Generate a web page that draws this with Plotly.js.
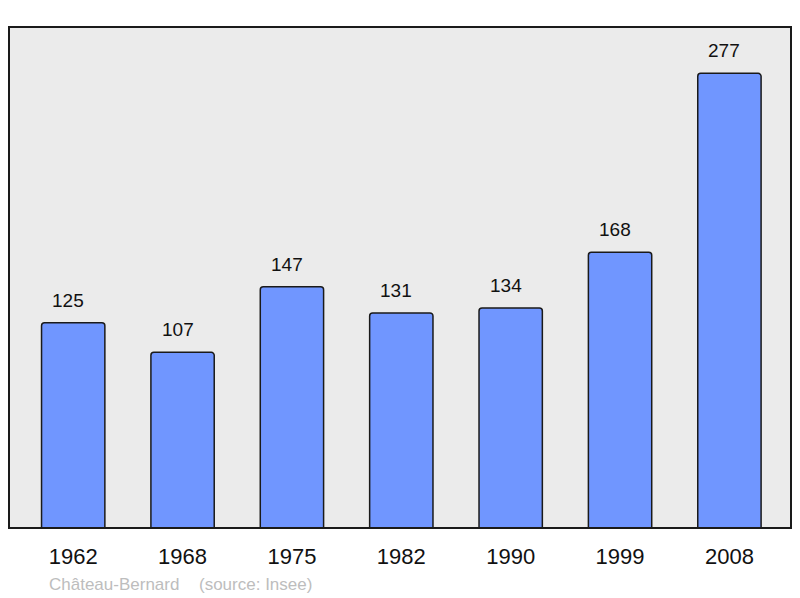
<!DOCTYPE html>
<html>
<head>
<meta charset="utf-8">
<script src="https://cdn.plot.ly/plotly-3.0.1.min.js"></script>
<style>html,body{margin:0;padding:0;background:#fff;}#chart{width:800px;height:598px;}</style>
</head>
<body>
<div id="chart"></div>
<script>
var years = ["1962", "1968", "1975", "1982", "1990", "1999", "2008"];
var population = [125, 107, 147, 131, 134, 168, 277];
var commune = "Château-Bernard";
var source = "(source: Insee)";

var FONT = "Liberation Sans, Arial, sans-serif";
var plotW = 800 - 9 - 9, plotH = 598 - 27 - 70;

var trace = {
  type: "bar",
  x: years.map(function (y, i) { return i; }),
  y: population,
  width: 0.579,
  marker: {
    color: "#7096ff",
    line: { color: "#1a1a1a", width: 1.5 },
    cornerradius: 3
  },
  hoverinfo: "none"
};

var annotations = years.map(function (yr, i) {
  return {
    x: i, y: population[i], xref: "x", yref: "y",
    text: String(population[i]), showarrow: false,
    xanchor: "center", yanchor: "bottom", yshift: 10, xshift: -5,
    font: { family: FONT, size: 19, color: "#111" }
  };
});
annotations.push({
  x: (47 - 9) / plotW, y: -(596 - 528) / plotH, xref: "paper", yref: "paper", text: commune,
  showarrow: false, xanchor: "left", yanchor: "bottom",
  font: { family: FONT, size: 17, color: "#bdbdbd" }
});
annotations.push({
  x: (197 - 9) / plotW, y: -(596 - 528) / plotH, xref: "paper", yref: "paper", text: source,
  showarrow: false, xanchor: "left", yanchor: "bottom",
  font: { family: FONT, size: 17, color: "#bdbdbd" }
});

var layout = {
  width: 800, height: 598,
  margin: { l: 9, r: 9, t: 27, b: 70 },
  paper_bgcolor: "#ffffff",
  plot_bgcolor: "#ebebeb",
  showlegend: false,
  xaxis: {
    type: "linear",
    range: [-0.587, 6.563],
    tickmode: "array",
    tickvals: years.map(function (y, i) { return i; }),
    ticktext: years,
    showgrid: false, zeroline: false, showline: false,
    ticks: "",
    ticklabelstandoff: 13,
    tickfont: { family: FONT, size: 22, color: "#111" },
    fixedrange: true
  },
  yaxis: {
    range: [0, 305.2],
    showgrid: false, zeroline: false, showline: false,
    showticklabels: false, ticks: "",
    fixedrange: true
  },
  annotations: annotations,
  shapes: [{
    type: "rect", xref: "paper", yref: "paper",
    x0: 0, x1: 1, y0: 0, y1: 1,
    line: { color: "#1a1a1a", width: 2 },
    fillcolor: "rgba(0,0,0,0)", layer: "above"
  }]
};

Plotly.newPlot("chart", [trace], layout, { staticPlot: true });
</script>
</body>
</html>
